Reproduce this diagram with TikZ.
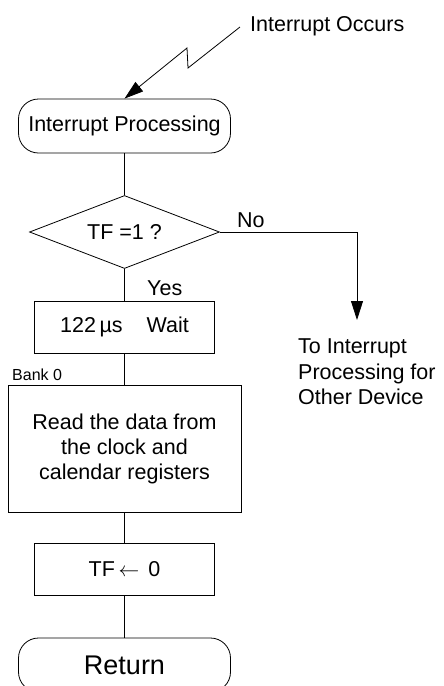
\documentclass[tikz,border=0pt]{standalone}
\usepackage{fontspec}
\setmainfont{Liberation Sans}
\usetikzlibrary{shapes.geometric,arrows.meta}

\begin{document}
\begin{tikzpicture}[x=1pt,y=-1pt,
	box/.style={shape=rectangle, draw, line width=0.8pt, minimum width=180pt, minimum height=52pt, inner sep=0pt, font=\fontsize{21.5}{25}\selectfont},
	term/.style={box, rounded corners=20pt, minimum width=212pt, minimum height=54pt},
	test/.style={shape=diamond, draw, line width=0.8pt, aspect=2.6, inner sep=0pt, minimum width=190pt, minimum height=73pt, font=\fontsize{21.5}{25}\selectfont},
	lbl/.style={anchor=base west, inner sep=0pt, font=\fontsize{21.5}{25.5}\selectfont},
	wire/.style={line width=0.8pt},
	tip/.style={-{Triangle[length=19pt,width=12pt]}, line width=0.8pt}]	% Paths, nodes and wires:
	\clip (0,0) rectangle (444,686);
	\node[term] (proc) at (124.5,126){Interrupt Processing};
	\node[test] (tf) at (124.5,232){TF =1 ?};
	\node[box] (wait) at (124.5,327){122\,µs\hspace{24pt}Wait};
	\node[box, minimum width=233pt, minimum height=127pt, align=center] (read) at (124.5,448.5){Read the data from\\the clock and\\calendar registers};
	\node[box] (clr) at (124.5,569.5){TF\,$\leftarrow$\hspace{9pt}0};
	\node[term, font=\fontsize{27}{30}\selectfont] (ret) at (124.5,665){Return};
	\node[lbl] (occurs) at (250,31){Interrupt Occurs};
	\node[lbl] (no) at (237,227){No};
	\node[lbl] (yes) at (147,295){Yes};
	\node[lbl, font=\fontsize{16}{18}\selectfont] (bank) at (12,380){Bank 0};
	\node[lbl, anchor=north west, align=left] (other) at (298,339){To Interrupt\\Processing for\\Other Device};
	\coordinate (z1) at (240,27);
	\coordinate (z2) at (188,68);
	\coordinate (z3) at (187,48);
	\coordinate (bend) at (357,232);
	\coordinate (down) at (357,320);
	\draw[tip] (z1) -- (z2) -- (z3) -- (proc.north);
	\draw[tip] (tf.east) -- (bend) -- (down);
	\draw[wire] (proc.south) -- (tf.north);
	\draw[wire] (tf.south) -- (wait.north);
	\draw[wire] (wait.south) -- (read.north);
	\draw[wire] (read.south) -- (clr.north);
	\draw[wire] (clr.south) -- (ret.north);
\end{tikzpicture}
\end{document}
